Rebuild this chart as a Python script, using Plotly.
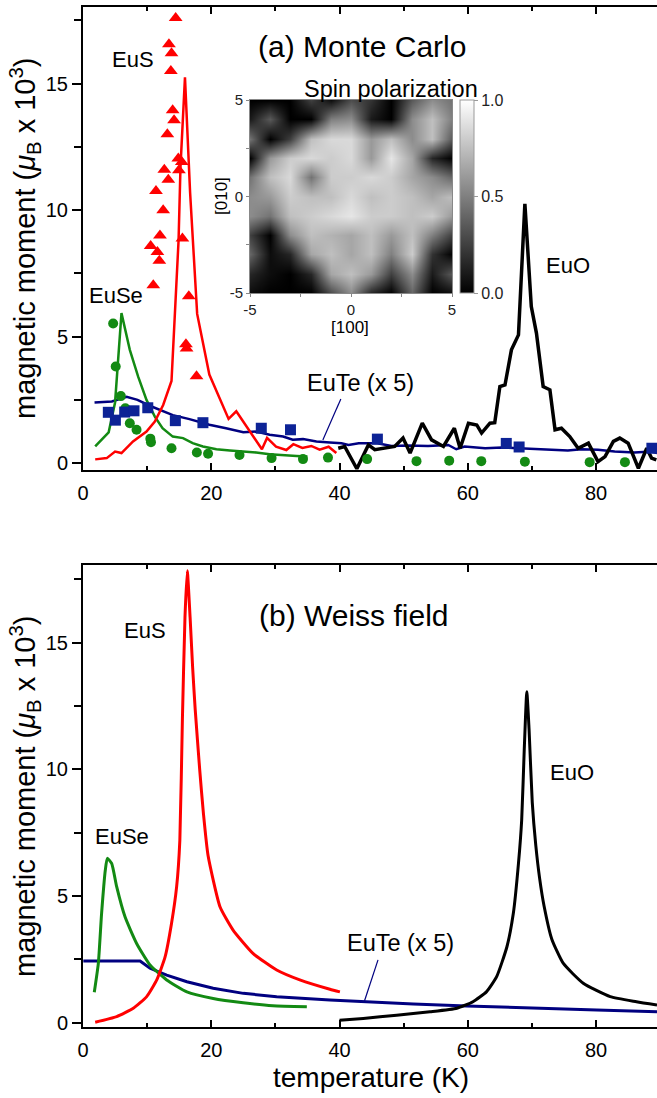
import plotly.graph_objects as go

# ---------------- data ----------------
# (a) Monte Carlo
eus_pts_T = [14.45, 13.4, 13.8, 13.7, 13.98, 14.2, 13.15, 14.86, 15.4, 12.68, 14.96, 13.3,
             11.38, 12.5, 12.0, 10.55, 11.6, 11.9, 15.5, 10.96, 16.5, 16.05, 16.15, 17.7]
eus_pts_M = [17.6, 16.56, 16.2, 15.5, 13.95, 13.55, 13.0, 12.04, 11.9, 11.6, 11.58, 11.2,
             10.76, 10.0, 9.0, 8.58, 8.35, 8.0, 8.88, 7.03, 6.6, 4.7, 4.53, 3.44]

eus_mc_T = [1.9, 3.7, 5.0, 6.0, 7.8, 9.9, 11.2, 12.5, 13.8, 14.9, 15.2, 15.9, 16.7, 17.8,
            19.7, 21.4, 22.7, 23.9, 25.6, 27.9, 28.7, 30.1, 31.7, 32.8, 34.2, 35.6, 36.9, 38.3, 39.5]
eus_mc_M = [0.15, 0.2, 0.46, 0.4, 0.86, 1.25, 1.64, 2.3, 3.25, 8.8, 11.7, 15.25, 10.7, 5.9,
            3.5, 2.5, 1.75, 2.05, 1.4, 0.55, 1.0, 0.65, 0.52, 0.75, 0.6, 0.68, 0.53, 0.65, 0.4]

euse_pts_T = [4.7, 5.1, 5.9, 6.6, 7.3, 8.35, 10.5, 10.6, 13.8, 17.75, 19.5, 24.4, 29.4, 34.3,
              38.2, 44.3, 52.0, 57.1, 62.1, 68.9, 79.0, 84.5]
euse_pts_M = [5.52, 3.82, 2.65, 2.17, 1.58, 1.32, 0.97, 0.83, 0.59, 0.42, 0.37, 0.32, 0.2, 0.16,
              0.22, 0.16, 0.08, 0.1, 0.08, 0.06, 0.04, 0.04]

euse_mc_T = [1.9, 4.0, 5.0, 6.0, 7.3, 8.6, 9.9, 11.2, 12.4, 14.0, 15.6, 17.1, 18.7, 20.8,
             22.9, 25.0, 27.0, 29.1, 31.2, 33.3, 35.0]
euse_mc_M = [0.66, 1.22, 2.4, 5.93, 4.48, 3.42, 2.5, 1.84, 1.38, 1.05, 0.99, 0.79, 0.66, 0.55,
             0.5, 0.46, 0.42, 0.35, 0.33, 0.28, 0.26]

eute_pts_T = [3.95, 5.05, 6.5, 7.95, 10.1, 14.4, 18.7, 27.8, 32.35, 45.9, 66.0, 68.0, 88.7]
eute_pts_M = [2.01, 1.7, 2.02, 2.07, 2.19, 1.68, 1.6, 1.38, 1.32, 0.95, 0.78, 0.64, 0.59]

eute_mc_T = [1.8, 4.5, 6.8, 8.5, 10.4, 12.0, 14.0, 16.6, 19.7, 22.3, 25.0, 27.0, 29.1, 31.2,
             32.7, 34.3, 36.4, 38.5, 40.3, 41.4, 43.0, 45.9, 48.1, 50.6, 53.8, 56.95, 58.2,
             59.5, 62.7, 65.3, 68.4, 72.5, 75.6, 77.7, 80.3, 82.9, 86.0, 88.6, 89.5]
eute_mc_M = [2.4, 2.44, 2.62, 2.5, 2.27, 2.1, 1.9, 1.74, 1.52, 1.38, 1.22, 1.25, 1.12, 1.05,
             0.93, 0.95, 0.86, 0.82, 0.79, 0.72, 0.79, 0.79, 0.68, 0.7, 0.68, 0.72, 0.55,
             0.66, 0.59, 0.62, 0.59, 0.55, 0.5, 0.55, 0.53, 0.46, 0.42, 0.46, 0.4]

euo_mc_T = [39.8, 40.8, 42.7, 44.5, 45.5, 47.1, 48.6, 49.9, 51.0, 52.9, 54.35, 56.2, 57.9,
            58.8, 60.1, 61.4, 62.15, 63.45, 64.2, 65.0, 65.8, 66.8, 67.9, 68.9, 69.9, 70.7,
            71.75, 72.8, 73.6, 74.6, 75.9, 77.2, 78.8, 80.3, 81.4, 82.7, 83.7, 85.0, 86.6,
            87.9, 88.65, 89.4]
euo_mc_M = [0.59, 0.66, -0.22, 0.72, 0.53, 0.59, 0.66, 0.99, 0.4, 1.58, 0.92, 0.66, 1.38,
            0.59, 1.58, 1.51, 1.19, 1.58, 1.6, 3.03, 3.09, 4.48, 5.07, 10.25, 6.19, 5.14,
            3.03, 2.9, 1.32, 1.38, 1.05, 0.59, 0.79, 0.06, 0.26, 0.86, 0.99, 0.79, -0.2,
            0.59, 0.2, 0.13]

# (b) Weiss field
eus_wf_T = [1.9, 5.25, 7.84, 9.93, 11.5, 12.8, 13.8, 14.6, 15.1, 15.5, 15.9, 16.26, 16.7,
            17.1, 17.5, 18.2, 18.8, 19.5, 21.36, 23.4, 26.5, 30.2, 33.8, 38.5, 40.06]
eus_wf_M = [0.02, 0.24, 0.57, 1.03, 1.69, 2.6, 3.92, 5.37, 7.2, 12.0, 16.0, 17.84, 16.0,
            14.0, 12.35, 9.98, 8.2, 6.6, 4.58, 3.66, 2.74, 2.08, 1.69, 1.32, 1.22]

euse_wf_T = [1.76, 2.39, 2.9, 3.48, 3.79, 4.47, 5.25, 6.55, 8.36, 10.45, 13.05, 16.2, 20.3,
             24.98, 29.6, 34.9]
euse_wf_M = [1.2, 2.34, 4.32, 6.03, 6.49, 6.29, 5.37, 4.18, 3.13, 2.28, 1.69, 1.22, 0.96,
             0.79, 0.67, 0.63]

eute_wf_T = [0.05, 8.9, 10.45, 13.05, 16.2, 20.3, 25.0, 30.2, 38.5, 43.7, 51.5, 59.8, 69.7,
             80.1, 89.5]
eute_wf_M = [2.44, 2.44, 2.15, 1.88, 1.62, 1.36, 1.16, 1.03, 0.9, 0.83, 0.74, 0.66, 0.57,
             0.5, 0.43]

euo_wf_T = [40.0, 43.7, 48.9, 54.1, 58.3, 60.8, 62.9, 64.5, 66.1, 67.1, 67.9, 68.4, 68.8,
            69.2, 69.55, 70.05, 70.6, 71.2, 71.9, 73.1, 74.9, 78.0, 82.2, 86.3, 89.5]
euo_wf_M = [0.1, 0.17, 0.3, 0.43, 0.57, 0.83, 1.22, 1.82, 3.0, 4.32, 6.29, 8.0, 10.77,
            13.07, 11.6, 8.7, 7.0, 5.7, 4.6, 3.3, 2.34, 1.56, 1.03, 0.83, 0.7]

# inset: spin polarization map (rows from [010]=5 down to -5, columns [100]=-5..5)
spin_x = [-5, -4, -3, -2, -1, 0, 1, 2, 3, 4, 5]
spin_y = [5, 4, 3, 2, 1, 0, -1, -2, -3, -4, -5]
spin_z = [
    [0.00, 0.00, 0.00, 0.25, 0.05, 0.30, 0.20, 0.00, 0.35, 0.55, 0.45],
    [0.10, 0.35, 0.00, 0.00, 0.50, 0.55, 0.10, 0.00, 0.55, 0.75, 0.50],
    [0.45, 0.00, 0.25, 0.75, 0.85, 0.85, 0.60, 0.75, 0.55, 0.75, 0.35],
    [0.00, 0.60, 0.80, 0.85, 0.80, 0.85, 0.60, 0.90, 0.65, 0.15, 0.00],
    [0.45, 0.75, 0.85, 0.45, 0.80, 0.80, 0.85, 0.80, 0.65, 0.55, 0.40],
    [0.55, 0.60, 0.80, 0.75, 0.75, 0.85, 0.75, 0.80, 0.75, 0.65, 0.75],
    [0.55, 0.45, 0.75, 0.80, 0.85, 0.90, 0.80, 0.80, 0.75, 0.80, 0.60],
    [0.25, 0.00, 0.55, 0.75, 0.70, 0.65, 0.75, 0.60, 0.75, 0.50, 0.25],
    [0.40, 0.05, 0.15, 0.65, 0.75, 0.65, 0.75, 0.50, 0.80, 0.20, 0.00],
    [0.15, 0.05, 0.00, 0.15, 0.65, 0.75, 0.60, 0.25, 0.55, 0.10, 0.35],
    [0.05, 0.00, 0.00, 0.00, 0.30, 0.55, 0.15, 0.00, 0.40, 0.00, 0.05],
]

x_ticks = [0, 20, 40, 60, 80]
y_ticks = [0, 5, 10, 15]
inset_ticks = [-5, 0, 5]
inset_ticktext = ["-5", "0", "5"]

# ---------------- styling ----------------
W, H = 657, 1098
FONT = "Liberation Sans, Arial, sans-serif"
RED, GREEN, NAVY, BLUE, BLACK = "#ff0000", "#138a13", "#000080", "#0d2396", "#000000"


def fx(px):
    return px / W


def fy(py):
    return 1 - py / H


fig = go.Figure()

# top panel
fig.add_trace(go.Scatter(x=eute_mc_T, y=eute_mc_M, mode="lines", line=dict(color=NAVY, width=2.5),
                         xaxis="x", yaxis="y"))
fig.add_trace(go.Scatter(x=euse_mc_T, y=euse_mc_M, mode="lines", line=dict(color=GREEN, width=2.5),
                         xaxis="x", yaxis="y"))
fig.add_trace(go.Scatter(x=eus_mc_T, y=eus_mc_M, mode="lines", line=dict(color=RED, width=2.5),
                         xaxis="x", yaxis="y"))
fig.add_trace(go.Scatter(x=euo_mc_T, y=euo_mc_M, mode="lines", line=dict(color=BLACK, width=3.5),
                         xaxis="x", yaxis="y"))
fig.add_trace(go.Scatter(x=eus_pts_T, y=eus_pts_M, mode="markers",
                         marker=dict(symbol="triangle-up", size=12, color=RED, line=dict(width=0)),
                         xaxis="x", yaxis="y"))
fig.add_trace(go.Scatter(x=euse_pts_T, y=euse_pts_M, mode="markers",
                         marker=dict(symbol="circle", size=10, color=GREEN, line=dict(width=0)),
                         xaxis="x", yaxis="y"))
fig.add_trace(go.Scatter(x=eute_pts_T, y=eute_pts_M, mode="markers",
                         marker=dict(symbol="square", size=11, color=BLUE, line=dict(width=0)),
                         xaxis="x", yaxis="y"))

# bottom panel
for T, M, c, shp in [(eute_wf_T, eute_wf_M, NAVY, "linear"), (euse_wf_T, euse_wf_M, GREEN, "spline"),
                     (eus_wf_T, eus_wf_M, RED, "spline"), (euo_wf_T, euo_wf_M, BLACK, "spline")]:
    fig.add_trace(go.Scatter(x=T, y=M, mode="lines",
                             line=dict(color=c, width=3, shape=shp, smoothing=0.5),
                             xaxis="x2", yaxis="y2"))

# inset heatmap
fig.add_trace(go.Heatmap(
    x=spin_x, y=spin_y, z=spin_z, zmin=0, zmax=1, zsmooth="best",
    colorscale=[[0, "#000000"], [1, "#ffffff"]], xaxis="x3", yaxis="y3",
    colorbar=dict(x=fx(460), xanchor="left", y=fy(196.5), yanchor="middle",
                  len=193 / H, lenmode="fraction", thickness=14, xpad=0, ypad=0,
                  outlinewidth=1, outlinecolor="#9a9a9a",
                  tickvals=[0, 0.5, 1], ticktext=["0.0", "0.5", "1.0"],
                  ticks="outside", ticklen=4, tickcolor="#9a9a9a",
                  tickfont=dict(family=FONT, size=16, color="#222"))
))

xdom = [fx(83), 1.0]
top_dom = [fy(470), fy(7)]
bot_dom = [fy(1027.3), fy(565)]

common_x = dict(range=[0, 89.5], tickvals=x_ticks, ticks="inside", ticklen=7, tickwidth=2,
                tickcolor="black", showline=True, linewidth=2, linecolor="black", mirror="ticks",
                showgrid=False, zeroline=False, automargin=False,
                tickfont=dict(family=FONT, size=20, color="black"),
                minor=dict(tickvals=[10, 30, 50, 70], ticklen=4, tickwidth=2, tickcolor="black", ticks="inside"),
                ticklabelstandoff=4)
common_yl = dict(tickvals=y_ticks, ticks="outside", ticklen=9, tickwidth=2, tickcolor="black",
                 showline=True, linewidth=2, linecolor="black", showgrid=False, zeroline=False,
                 automargin=False, tickfont=dict(family=FONT, size=20, color="black"),
                 minor=dict(tickvals=[2.5, 7.5, 12.5, 17.5], ticklen=7, tickwidth=2, tickcolor="black", ticks="outside"))
common_yr = dict(tickvals=y_ticks, ticks="inside", ticklen=8, tickwidth=2, tickcolor="black",
                 showline=False, showgrid=False, zeroline=False, showticklabels=False, side="right",
                 automargin=False,
                 minor=dict(tickvals=[2.5, 7.5, 12.5, 17.5], ticklen=4, tickwidth=2, tickcolor="black", ticks="inside"))
inset_ax = dict(range=[-5, 5], tickvals=inset_ticks, ticktext=inset_ticktext, ticks="outside", ticklen=3,
                tickcolor="#888", showline=True, linewidth=1, linecolor="#888", mirror=True,
                showgrid=False, zeroline=False, automargin=False, ticklabelstandoff=0,
                tickfont=dict(family=FONT, size=15, color="#222"),
                minor=dict(tickvals=[-2.5, 2.5], ticklen=3, tickcolor="#888", ticks="outside"))

top_range = [-0.27, 18.03]
bot_range = [-0.18, 18.07]

fig.update_layout(
    template="none",
    width=W, height=H, margin=dict(l=0, r=0, t=0, b=0, pad=0, autoexpand=False), autosize=False,
    paper_bgcolor="white", plot_bgcolor="white", showlegend=False,
    font=dict(family=FONT, color="black"),
    xaxis=dict(domain=xdom, anchor="y", **common_x),
    yaxis=dict(domain=top_dom, anchor="x", range=top_range, **common_yl),
    yaxis5=dict(overlaying="y", anchor="x", range=top_range, **common_yr),
    xaxis2=dict(domain=xdom, anchor="y2", **common_x),
    yaxis2=dict(domain=bot_dom, anchor="x2", range=bot_range, **common_yl),
    yaxis6=dict(overlaying="y2", anchor="x2", range=bot_range, **common_yr),
    xaxis3=dict(domain=[fx(250), fx(452)], anchor="y3", **inset_ax),
    yaxis3=dict(domain=[fy(293), fy(100)], anchor="x3", **inset_ax),
)

annos = [
    ("(a) Monte Carlo", 362, 47, 30, 0),
    ("Spin polarization", 391, 89, 23.5, 0),
    ("EuS", 133, 60, 22, 0),
    ("EuSe", 116, 295, 22, 0),
    ("EuO", 568, 266, 22, 0),
    ("EuTe (x 5)", 360, 383, 23.5, 0),
    ("(b) Weiss field", 354, 615, 30, 0),
    ("EuS", 145, 630, 22, 0),
    ("EuSe", 122, 836, 22, 0),
    ("EuO", 572, 772, 22, 0),
    ("EuTe (x 5)", 400, 943, 23.5, 0),
    ("[100]", 350, 327, 17, 0),
    ("[010]", 221, 196, 17, -90),
    ("magnetic moment (<i>μ</i><sub>B</sub> x 10<sup>3</sup>)", 25, 239, 29, -90),
    ("magnetic moment (<i>μ</i><sub>B</sub> x 10<sup>3</sup>)", 25, 797, 29, -90),
    ("temperature (K)", 371, 1077, 28, 0),
]
for text, px, py, size, ang in annos:
    fig.add_annotation(text=text, x=fx(px), y=fy(py), xref="paper", yref="paper",
                       xanchor="center", yanchor="middle", showarrow=False, textangle=ang,
                       font=dict(family=FONT, size=size, color="black"))

# pointer lines for EuTe labels
fig.add_shape(type="line", xref="x", yref="y", x0=40.2, y0=2.54, x1=37.4, y1=0.92,
              line=dict(color=NAVY, width=1.2))
fig.add_shape(type="line", xref="x2", yref="y2", x0=46.0, y0=2.48, x1=43.9, y1=0.87,
              line=dict(color=NAVY, width=1.2))

fig.write_html("out.html", config={"displayModeBar": False},
               post_script="document.body.style.margin='0';document.body.style.padding='0';"
                           "document.body.style.overflow='hidden';")
